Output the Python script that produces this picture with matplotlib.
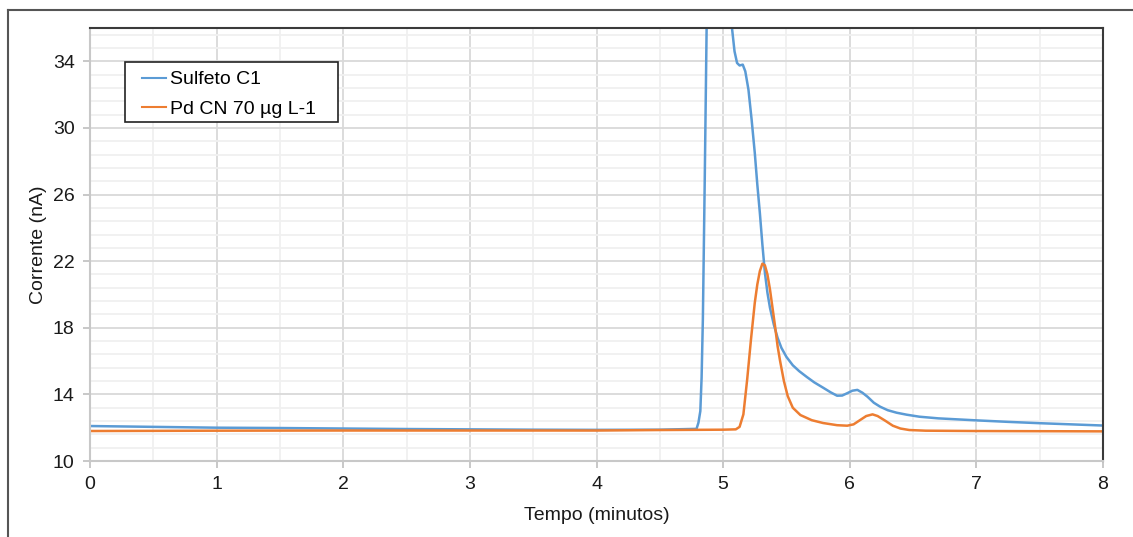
import matplotlib
matplotlib.use("Agg")
import numpy as np
import matplotlib.pyplot as plt
from matplotlib.lines import Line2D
from matplotlib.patches import Rectangle

# Sulfeto C1 (tempo em minutos, corrente em nA)
sulfeto_t = [0.0, 0.5, 1.0, 1.5, 2.0, 2.5, 3.0, 3.5, 4.0, 4.5, 4.79,
             4.805, 4.82, 4.83, 4.84, 4.855, 4.87, 4.9, 4.95, 5.0, 5.04,
             5.07, 5.09, 5.11, 5.13, 5.155, 5.175, 5.2, 5.225, 5.25, 5.27,
             5.29, 5.31, 5.33, 5.35, 5.37, 5.40, 5.43, 5.46, 5.5, 5.55,
             5.6, 5.66, 5.72, 5.79, 5.85, 5.90, 5.94, 5.98, 6.02, 6.06,
             6.10, 6.14, 6.19, 6.24, 6.3, 6.37, 6.45, 6.55, 6.7, 6.85,
             7.0, 7.25, 7.5, 7.75, 8.0]
sulfeto_y = [12.1, 12.05, 12.0, 11.98, 11.95, 11.92, 11.9, 11.88, 11.87, 11.88, 11.93,
             12.3, 13.0, 15.0, 18.5, 27.0, 36.2, 48.0, 55.0, 52.0, 42.0,
             36.0, 34.6, 33.9, 33.75, 33.8, 33.4, 32.3, 30.5, 28.5, 26.6,
             24.9, 23.0, 21.3, 20.1, 19.2, 18.2, 17.4, 16.8, 16.25, 15.75,
             15.4, 15.05, 14.72, 14.4, 14.12, 13.92, 13.93, 14.07, 14.22, 14.27,
             14.1, 13.86, 13.5, 13.26, 13.05, 12.9, 12.78, 12.66, 12.56, 12.5,
             12.44, 12.35, 12.27, 12.2, 12.13]

# Pd CN 70 µg L-1
pd_t = [0.0, 1.0, 2.0, 3.0, 4.0, 4.5, 5.0, 5.1, 5.13, 5.16, 5.19, 5.22,
        5.25, 5.27, 5.29, 5.31, 5.33, 5.35, 5.37, 5.39, 5.41, 5.43, 5.45,
        5.48, 5.51, 5.55, 5.61, 5.7, 5.79, 5.9, 5.98, 6.03, 6.08, 6.13,
        6.18, 6.22, 6.28, 6.34, 6.4, 6.47, 6.6, 7.0, 7.5, 8.0]
pd_y = [11.8, 11.82, 11.83, 11.83, 11.83, 11.86, 11.88, 11.9, 12.05, 12.8, 14.9, 17.3,
        19.5, 20.6, 21.4, 21.85, 21.75, 21.2, 20.3, 19.2, 18.1, 16.9, 16.0,
        14.8, 13.9, 13.2, 12.76, 12.45, 12.28, 12.15, 12.12, 12.2, 12.45, 12.7,
        12.8, 12.7, 12.42, 12.12, 11.95, 11.86, 11.82, 11.8, 11.79, 11.78]

labels = ["Sulfeto C1", "Pd CN 70 µg L-1"]
colors = ["#5B9BD5", "#ED7D31"]
x_ticks = [0, 1, 2, 3, 4, 5, 6, 7, 8]
y_ticks = [10, 14, 18, 22, 26, 30, 34]


def main():
    plt.rcParams["font.family"] = ["Liberation Sans", "DejaVu Sans"]
    fig = plt.figure(figsize=(11.33, 5.37), dpi=100)
    ax = fig.add_axes([90 / 1133, 76 / 537, 1013 / 1133, 433 / 537])

    ax.plot(sulfeto_t, sulfeto_y, color=colors[0], lw=1.8, label=labels[0])
    ax.plot(pd_t, pd_y, color=colors[1], lw=1.8, label=labels[1])

    ax.set_xlim(0, 8)
    ax.set_ylim(10, 36)
    ax.set_xticks(x_ticks)
    ax.set_xticks(np.arange(0, 8.01, 0.5), minor=True)
    ax.set_yticks(y_ticks)
    ax.set_yticks(np.arange(10, 36.01, 0.8), minor=True)
    ax.grid(True, which="major", color="#d9d9d9", lw=1.3)
    ax.grid(True, which="minor", color="#f0f0f0", lw=1.3)
    ax.set_axisbelow(True)

    ax.tick_params(which="major", length=5, width=1.2, color="#bfbfbf",
                   labelsize=14, labelcolor="#1a1a1a", pad=6)
    ax.tick_params(which="minor", length=0)
    for s in ["left", "bottom"]:
        ax.spines[s].set_color("#c8c8c8")
        ax.spines[s].set_linewidth(1.5)
    for s in ["top", "right"]:
        ax.spines[s].set_color("#3a3a3a")
        ax.spines[s].set_linewidth(1.5)

    ax.set_xlabel("Tempo (minutos)", fontsize=14, color="#1a1a1a", labelpad=10)
    ax.set_ylabel("Corrente (nA)", fontsize=14, color="#1a1a1a", labelpad=4)

    # legend box
    ax.add_patch(Rectangle((0.0346, 0.7829), 0.2102, 0.1386, transform=ax.transAxes,
                           facecolor="white", edgecolor="#222222", lw=1.2, zorder=4))
    leg = ax.legend(loc="upper left", bbox_to_anchor=(0.0515, 0.901),
                    borderaxespad=0, borderpad=0, fontsize=14, frameon=False,
                    handlelength=1.2, handletextpad=0.25, labelspacing=0.62)
    leg.set_zorder(5)
    for h in leg.get_lines():
        h.set_linewidth(1.5)

    # outer chart frame (left and top edges)
    fig.add_artist(Line2D([8 / 1133, 8 / 1133], [0, 527 / 537],
                          transform=fig.transFigure, color="#555555", lw=1.5))
    fig.add_artist(Line2D([8 / 1133, 1], [527 / 537, 527 / 537],
                          transform=fig.transFigure, color="#555555", lw=1.5))

    fig.savefig("out.png", dpi=100)
    plt.close(fig)


if __name__ == "__main__":
    main()
